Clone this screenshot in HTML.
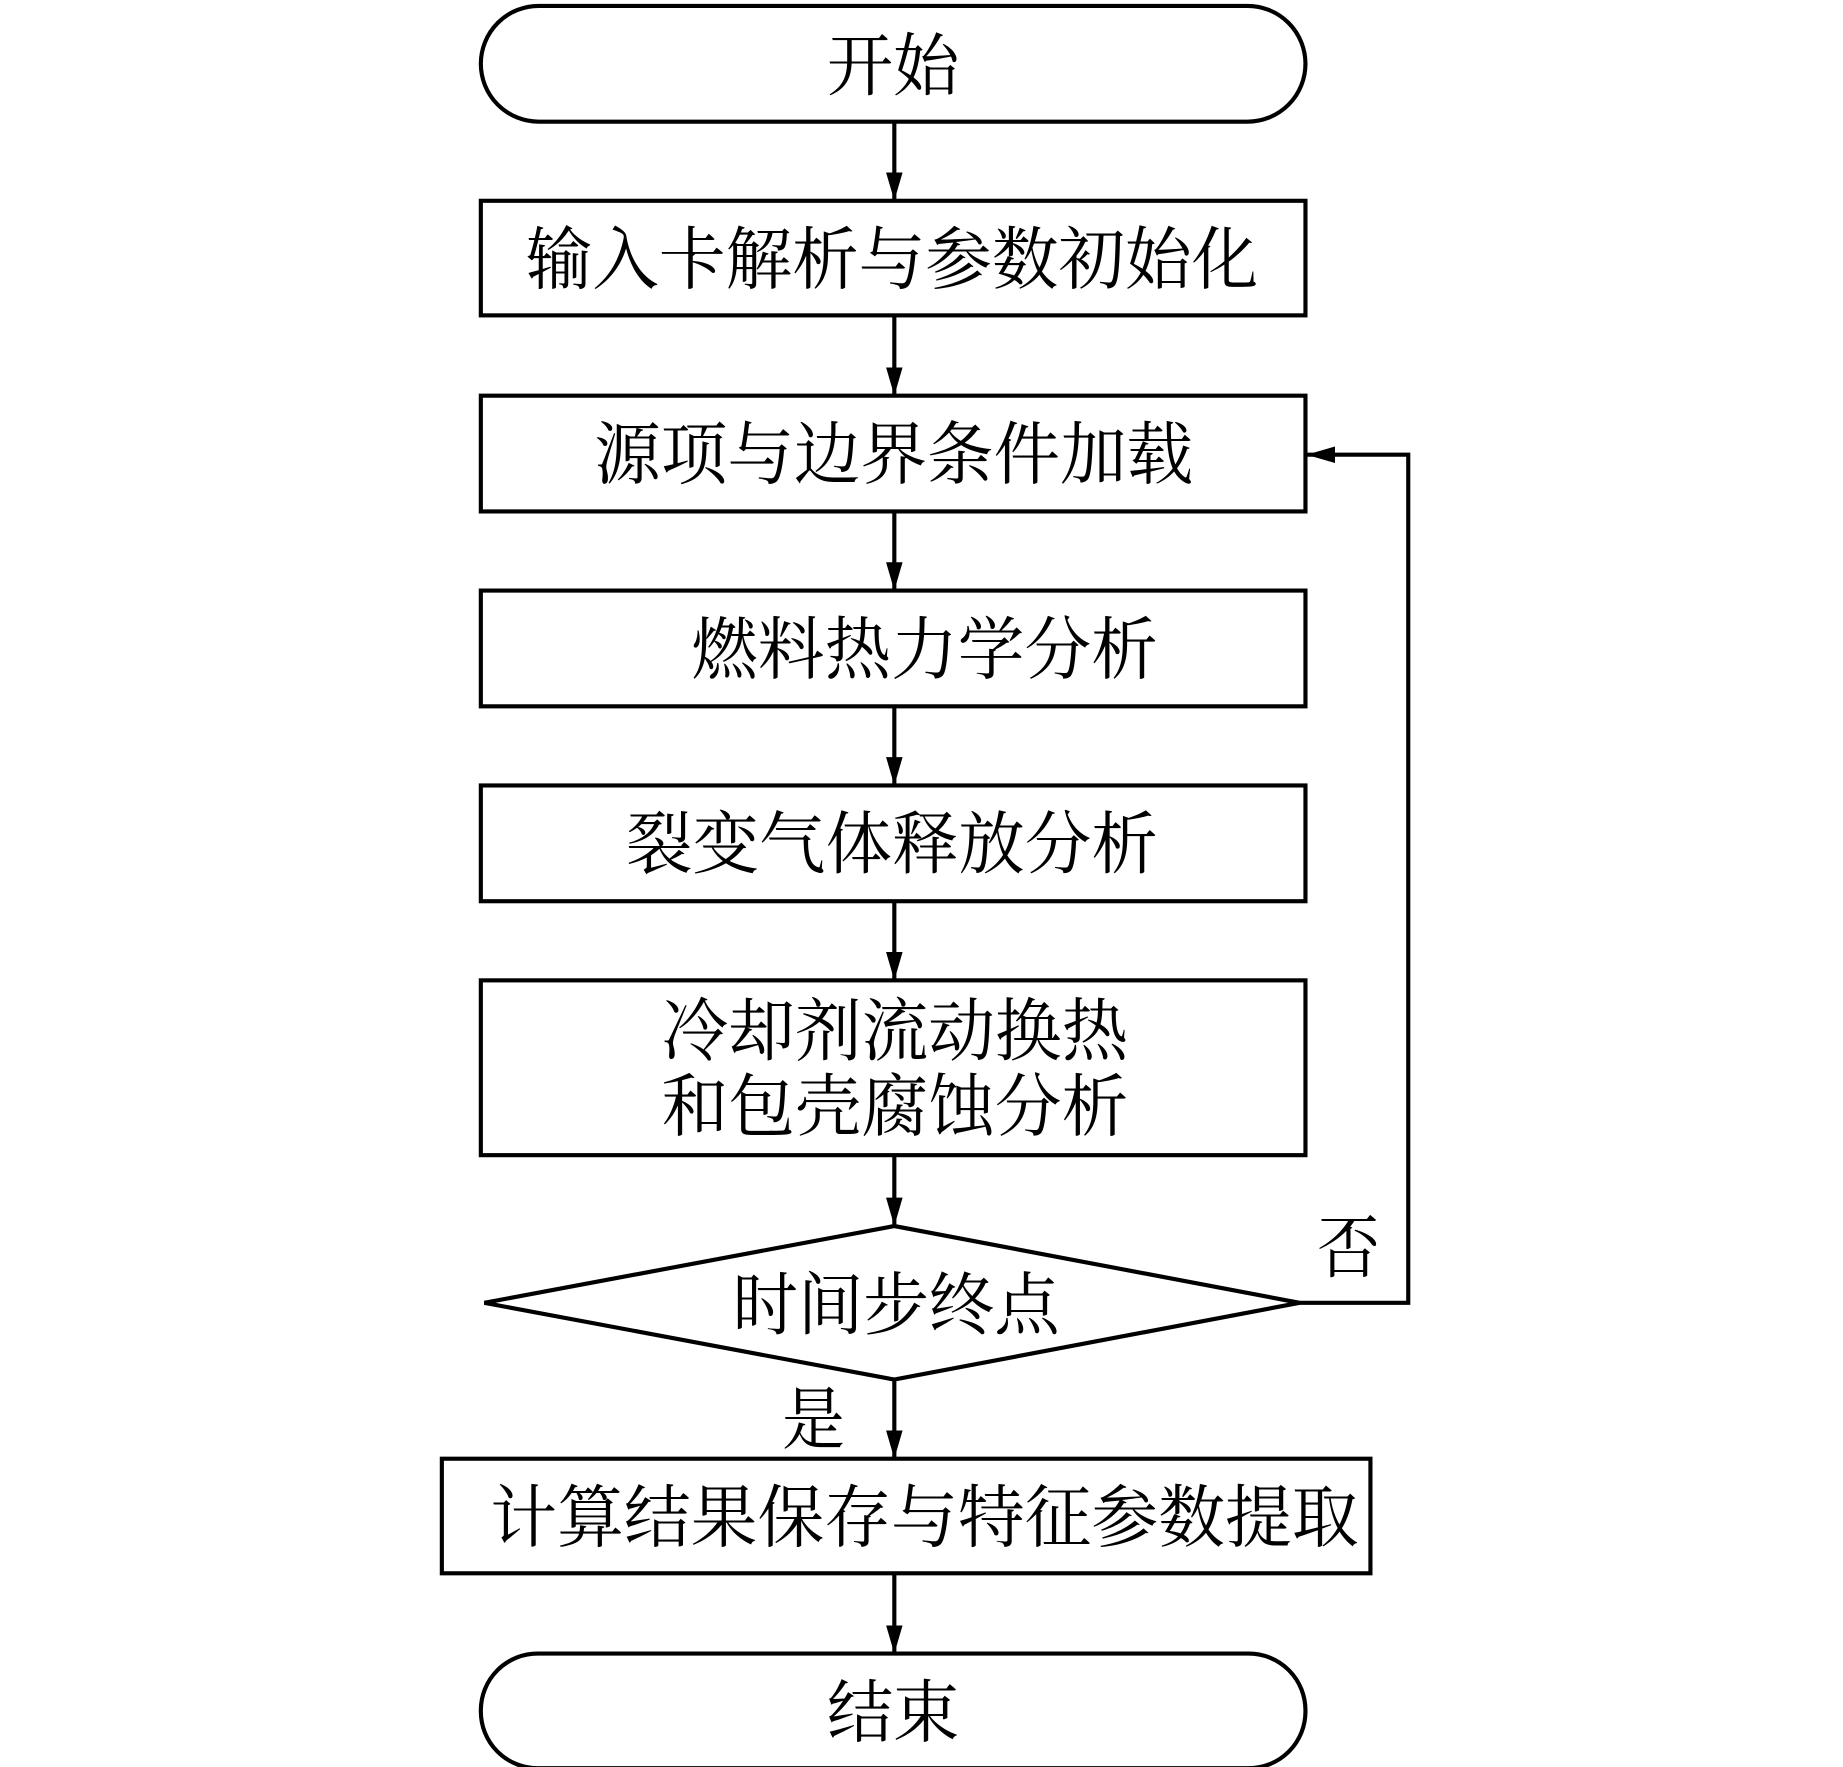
<!DOCTYPE html>
<html><head><meta charset="utf-8"><style>
html,body{margin:0;padding:0;background:#fff}
svg{display:block}
text{font-family:"Liberation Serif","Noto Serif CJK SC",serif;font-size:58px;fill:#000}
</style></head><body>
<svg width="1843" height="1767" viewBox="0 0 1560 1496" preserveAspectRatio="none" xmlns="http://www.w3.org/2000/svg">
<defs><marker id="a" markerWidth="10" markerHeight="10" refX="9" refY="5" orient="auto" markerUnits="userSpaceOnUse"><path d="M0,0 L10,5 L0,10 z" fill="#000"/></marker>
<marker id="b" markerWidth="24" markerHeight="14" refX="24" refY="7" orient="auto" markerUnits="userSpaceOnUse"><path d="M0,0 L24,7 L0,14 z" fill="#000"/></marker></defs>
<g stroke="#000" stroke-width="3.5" fill="none">
<rect x="407" y="5" width="698" height="98" rx="49"/>
<rect x="407" y="170" width="698" height="97"/>
<rect x="407" y="335" width="698" height="98"/>
<rect x="407" y="500" width="698" height="98"/>
<rect x="407" y="665" width="698" height="98"/>
<rect x="407" y="830" width="698" height="148"/>
<polygon points="410,1103 757,1038 1100,1103 757,1168"/>
<rect x="374" y="1235" width="786" height="97"/>
<rect x="407" y="1400" width="698" height="97" rx="48"/>
<g marker-end="url(#b)">
<line x1="757" y1="103" x2="757" y2="170"/>
<line x1="757" y1="267" x2="757" y2="335"/>
<line x1="757" y1="433" x2="757" y2="500"/>
<line x1="757" y1="598" x2="757" y2="665"/>
<line x1="757" y1="763" x2="757" y2="830"/>
<line x1="757" y1="978" x2="757" y2="1038"/>
<line x1="757" y1="1168" x2="757" y2="1235"/>
<line x1="757" y1="1332" x2="757" y2="1400"/>
<polyline points="1100,1103 1192,1103 1192,385 1106,385"/>
</g>
</g>
<text x="700" y="76" textLength="112" lengthAdjust="spacingAndGlyphs">开始</text>
<text x="445" y="240" textLength="620" lengthAdjust="spacingAndGlyphs">输入卡解析与参数初始化</text>
<text x="503" y="405" textLength="507" lengthAdjust="spacingAndGlyphs">源项与边界条件加载</text>
<text x="585" y="570" textLength="395" lengthAdjust="spacingAndGlyphs">燃料热力学分析</text>
<text x="530" y="735" textLength="450" lengthAdjust="spacingAndGlyphs">裂变气体释放分析</text>
<text x="560" y="893" textLength="395" lengthAdjust="spacingAndGlyphs">冷却剂流动换热</text>
<text x="560" y="957" textLength="395" lengthAdjust="spacingAndGlyphs">和包壳腐蚀分析</text>
<text x="620" y="1125" textLength="277" lengthAdjust="spacingAndGlyphs">时间步终点</text>
<text x="1115" y="1077" textLength="53" lengthAdjust="spacingAndGlyphs">否</text>
<text x="662" y="1222" textLength="53" lengthAdjust="spacingAndGlyphs">是</text>
<text x="415" y="1305" textLength="735" lengthAdjust="spacingAndGlyphs">计算结果保存与特征参数提取</text>
<text x="700" y="1470" textLength="112" lengthAdjust="spacingAndGlyphs">结束</text>
</svg>
</body></html>
